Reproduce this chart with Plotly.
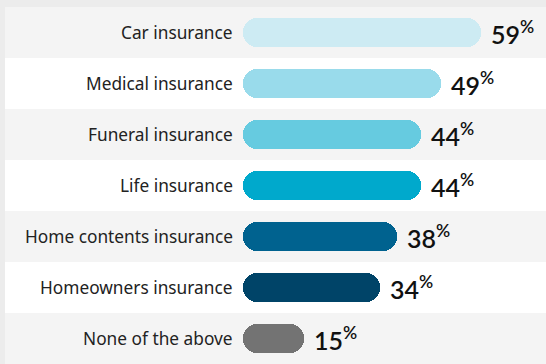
import plotly.graph_objects as go

# Survey results: share of respondents holding each type of insurance
categories = [
    "Car insurance",
    "Medical insurance",
    "Funeral insurance",
    "Life insurance",
    "Home contents insurance",
    "Homeowners insurance",
    "None of the above",
]
values = [59, 49, 44, 44, 38, 34, 15]
bar_colors = ["#cdebf3", "#99dbeb", "#66cbe0", "#00a9cc", "#00628f", "#004468", "#737373"]
row_colors = ["#f4f4f4", "#ffffff"]

W, H = 546, 364
ml, mt = 5, 7
plot_w = W - ml
px_per_unit = 4.04
zero_px = 238  # pixel offset of the value axis origin inside the plot area
x_min = -zero_px / px_per_unit
x_max = (plot_w - zero_px) / px_per_unit

n = len(categories)
ypos = list(range(n))

fig = go.Figure()
fig.add_trace(go.Bar(
    y=ypos,
    x=values,
    base=[0] * n,
    orientation="h",
    marker=dict(color=bar_colors, cornerradius="50%", line=dict(width=0)),
    width=0.57,
    hoverinfo="skip",
))

shapes = []
for i in range(n):
    shapes.append(dict(
        type="rect", xref="paper", yref="y",
        x0=0, x1=1, y0=i - 0.5, y1=i + 0.5,
        fillcolor=row_colors[i % 2], line=dict(width=0), layer="below",
    ))

annotations = []
for i, (cat, v) in enumerate(zip(categories, values)):
    annotations.append(dict(
        x=0, y=i, xref="x", yref="y", text=cat, showarrow=False,
        xanchor="right", yanchor="middle", xshift=-8,
        font=dict(family="Noto Sans", size=17.3, color="#222222"),
    ))
    annotations.append(dict(
        x=v, y=i, xref="x", yref="y",
        text=f"{v}<sup>%</sup>",
        showarrow=False,
        xanchor="left", yanchor="middle", xshift=8, yshift=0,
        font=dict(family="Lato", size=25, color="#111111", weight=600),
    ))

fig.update_layout(
    width=W, height=H,
    margin=dict(l=ml, r=0, t=mt, b=0),
    paper_bgcolor="#ececec",
    plot_bgcolor="#ffffff",
    showlegend=False,
    shapes=shapes,
    annotations=annotations,
    bargap=0,
    xaxis=dict(range=[x_min, x_max], visible=False, fixedrange=True),
    yaxis=dict(range=[n - 0.5, -0.5], visible=False, fixedrange=True),
)

fig.write_html("out.html")
